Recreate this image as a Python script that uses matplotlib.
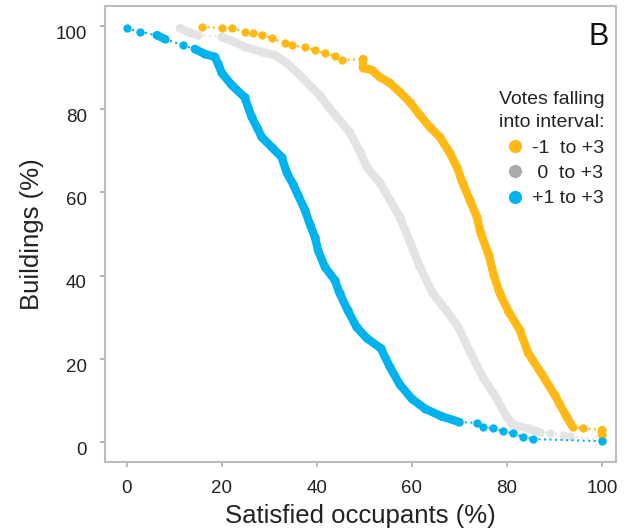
import numpy as np
import matplotlib.pyplot as plt
import matplotlib.transforms as mtransforms

plt.rcParams['font.family'] = ['Liberation Sans', 'DejaVu Sans']

# satisfied occupants (%) vs buildings (%) for each vote interval
orange_x = [15.8, 20.0, 22.1, 24.8, 26.5, 28.4, 30.5, 33.3, 34.7, 37.5, 39.6, 41.7, 43.8, 45.3,
            49.7, 49.7, 51.6, 53.3, 55.4, 57.5, 59.6, 61.7, 63.8, 65.9, 68.0, 69.5, 70.7, 72.2,
            73.7, 74.5, 76.2, 77.3, 78.5, 80.3, 82.7, 84.5, 87.2, 90.1, 92.6, 93.9, 96.0, 100, 100]
orange_y = [99.8, 99.5, 99.5, 98.6, 98.3, 97.8, 97.1, 95.9, 95.4, 94.9, 94.2, 93.5, 92.8, 91.8,
            92.0, 90.0, 89.4, 87.7, 86.3, 84.1, 81.7, 78.6, 75.7, 73.3, 69.5, 66.1, 62.3, 58.2,
            54.1, 50.2, 45.0, 40.0, 35.8, 31.5, 27.0, 21.4, 16.6, 11.3, 6.0, 3.6, 3.3, 2.9, 1.7]
orange_gaps = list(range(0, 14)) + [39, 40]

grey_x = [11.2, 12.8, 15.0, 20.0, 22.7, 24.8, 28.4, 31.2, 33.7, 36.0, 38.9, 40.6, 42.5, 44.3,
          46.9, 49.0, 50.5, 53.3, 55.4, 57.5, 59.6, 61.7, 64.4, 67.2, 69.8, 72.2, 75.0, 77.9,
          80.0, 81.3, 84.2, 86.9, 89.0, 91.8, 93.3, 100]
grey_y = [99.5, 98.6, 97.8, 97.4, 96.2, 95.0, 93.8, 93.0, 91.1, 88.7, 85.3, 83.4, 80.5, 78.1,
          74.5, 70.0, 66.1, 62.3, 58.2, 54.0, 48.2, 42.1, 35.8, 31.7, 27.6, 21.8, 15.5, 10.4,
          6.0, 4.1, 3.3, 2.4, 2.2, 1.7, 1.4, 0.5]
grey_gaps = [2, 31, 32, 33, 34]

blue_x = [0, 2.7, 6.3, 8.0, 11.8, 14.3, 16.4, 18.5, 19.3, 20.0, 22.1, 24.8, 26.3, 27.5, 28.4,
          30.5, 32.6, 33.7, 35.0, 36.0, 37.5, 38.5, 39.6, 40.3, 41.7, 43.8, 44.8, 46.5, 48.4,
          50.5, 53.5, 55.4, 57.5, 60.0, 62.8, 66.2, 70.0, 73.7, 75.0, 77.1, 79.2, 81.3, 83.4,
          85.5, 100]
blue_y = [99.5, 98.6, 97.8, 96.9, 95.4, 94.5, 93.3, 92.6, 90.8, 88.7, 85.8, 82.9, 78.1, 75.5,
          73.3, 70.9, 68.5, 64.7, 62.0, 59.5, 55.8, 52.5, 49.3, 46.0, 42.1, 38.9, 35.8, 31.7,
          27.6, 25.0, 22.5, 18.0, 13.8, 10.4, 8.0, 6.2, 4.8, 4.6, 3.6, 3.3, 2.6, 2.1, 1.2,
          0.7, 0.2]
blue_gaps = [0, 1, 3, 4] + list(range(36, 44))

series = [
    (grey_x, grey_y, grey_gaps, '#e3e3e3', '#aaaaaa', ' 0  to +3'),
    (orange_x, orange_y, orange_gaps, '#ffb814', '#ffb814', '-1  to +3'),
    (blue_x, blue_y, blue_gaps, '#00b2ee', '#00b2ee', '+1 to +3'),
]

fig = plt.figure(figsize=(6.28, 5.32), dpi=100)
ax = fig.add_axes([0.167, 0.1316, 0.814, 0.857])

for xs, ys, gaps, col, lcol, lab in series:
    for i in range(len(xs) - 1):
        if i in gaps:
            ax.plot(xs[i:i+2], ys[i:i+2], ls=':', lw=1.5, color=col)
        else:
            ax.plot(xs[i:i+2], ys[i:i+2], ls='-', lw=6, color=col,
                    solid_capstyle='round')
    ax.plot(xs, ys, ls='none', marker='o', ms=6, mec='none', color=col)

# legend handles in order
handles = []
for xs, ys, gaps, col, lcol, lab in [series[1], series[0], series[2]]:
    h, = ax.plot([], [], ls='none', marker='o', ms=9.5, mec='none', color=lcol, label=lab)
    handles.append(h)
leg = ax.legend(handles=handles, title='Votes falling\ninto interval:', loc='upper right',
                bbox_to_anchor=(1.0, 0.84), frameon=False, fontsize=14,
                title_fontsize=14, handletextpad=0.4, labelspacing=0.4,
                handlelength=1.0, alignment='right', borderaxespad=0.2)
for t in leg.get_texts():
    t.set_color('#222222')
leg.get_title().set_color('#222222')
leg.get_title().set_linespacing(1.5)

ax.text(0.985, 0.965, 'B', transform=ax.transAxes, ha='right', va='top',
        fontsize=22, color='#111111')

ax.set_xlim(-4.6, 103)
ax.set_ylim(-4.8, 104.8)
ax.set_xticks([0, 20, 40, 60, 80, 100])
ax.set_yticks([0, 20, 40, 60, 80, 100])
ax.tick_params(direction='out', length=3.6, width=1.2, color='#aaaaaa',
               labelsize=13.5, labelcolor='#222222', pad=9.4)
for s in ax.spines.values():
    s.set_color('#bbbbbb')
    s.set_linewidth(1.5)

# y tick labels sit a little below their ticks
shift = mtransforms.ScaledTranslation(0, -4.5 / 72, fig.dpi_scale_trans)
for lab in ax.get_yticklabels():
    lab.set_transform(lab.get_transform() + shift)

ax.set_xlabel('Satisfied occupants (%)', fontsize=18.5, color='#222222', labelpad=5)
ax.set_ylabel('Buildings (%)', fontsize=18.5, color='#222222', labelpad=8)

fig.savefig('out.png', dpi=100)
